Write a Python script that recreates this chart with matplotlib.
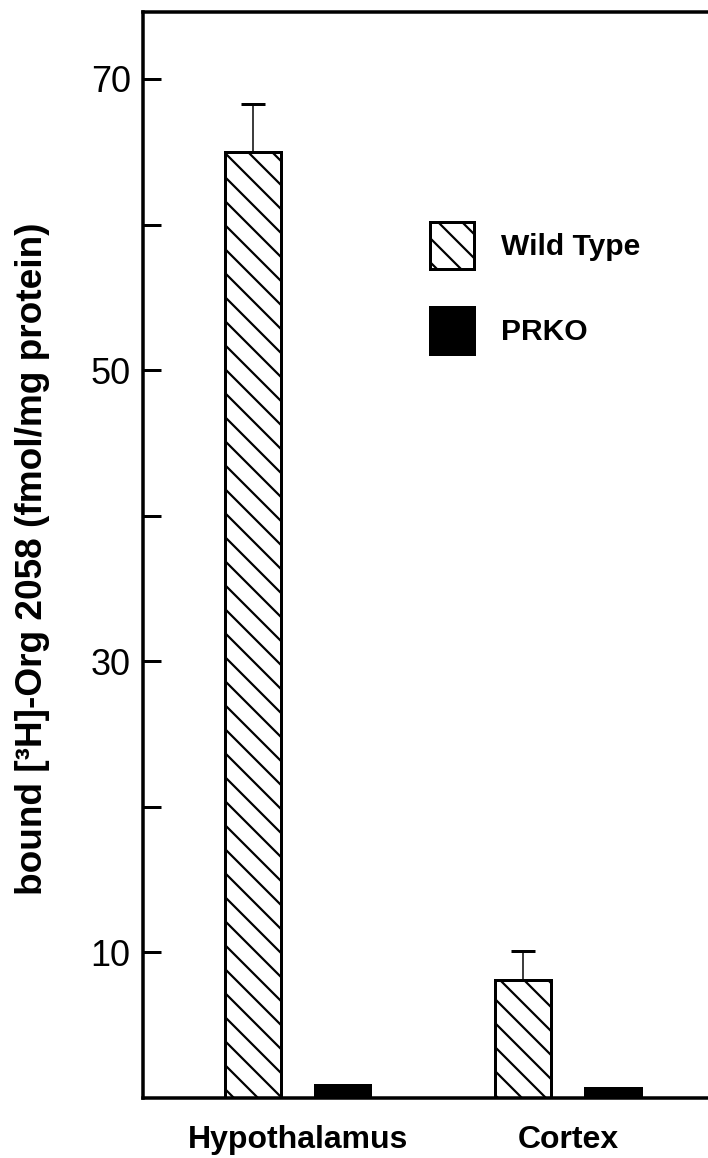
import numpy as np
import matplotlib
matplotlib.use("Agg")
import matplotlib.pyplot as plt

# data
regions = ["Hypothalamus", "Cortex"]
wild_type = [65.0, 8.1]
wild_type_err = [3.3, 2.0]
prko = [0.9, 0.7]
ytick_major = [10, 30, 50, 70]
ytick_minor = [20, 40, 60]

plt.rcParams["font.family"] = ["Liberation Sans", "DejaVu Sans"]
plt.rcParams["hatch.linewidth"] = 2.2

W, H, DPI = 708, 1158, 72
fig = plt.figure(figsize=(W / DPI, H / DPI), dpi=DPI)
left, bottom, top = 142.7, 1098, 12
ax = fig.add_axes([left / W, 1 - bottom / H, 1 - left / W, (bottom - top) / H])

group_x = np.array([2.77, 7.6])
off = 0.8
bw = 1.0

ax.errorbar(group_x - off, wild_type, yerr=[np.zeros(len(wild_type)), wild_type_err],
            fmt="none", ecolor="black", elinewidth=1.5, capsize=12, capthick=3, zorder=1)
ax.bar(group_x - off, wild_type, bw, facecolor="white", edgecolor="black", lw=3,
       hatch="\\", label="Wild Type", zorder=2)
ax.bar(group_x + off, prko, bw, color="black", edgecolor="black", lw=3,
       label="PRKO", zorder=2)

ax.set_xlim(0, 10.1)
ax.set_ylim(0, 74.6)

ax.set_yticks(ytick_major)
ax.set_yticks(ytick_minor, minor=True)
ax.set_yticklabels([str(v) for v in ytick_major], fontsize=36)
ax.tick_params(axis="y", which="both", direction="in", length=18, width=3, pad=12)

ax.set_xticks(group_x)
ax.set_xticklabels(regions, fontsize=32, fontweight="bold")
ax.tick_params(axis="x", length=0, pad=27)

for s in ["left", "bottom", "top"]:
    ax.spines[s].set_linewidth(3.5)
ax.spines["right"].set_visible(False)

# y label placed by hand so it sits where the original has it
fig.text(33 / W, 1 - 559 / H, "bound [³H]-Org 2058 (fmol/mg protein)",
         rotation=90, ha="center", va="center", fontsize=37, fontweight="bold")

ax.legend(loc="upper left", bbox_to_anchor=(430 / W, 1 - 222 / H),
          bbox_transform=fig.transFigure, frameon=False,
          prop={"size": 30, "weight": "bold"},
          handlelength=44 / 30, handleheight=2.03, handletextpad=0.9,
          labelspacing=1.27, borderpad=0, borderaxespad=0)

fig.savefig("out.png", dpi=DPI)
